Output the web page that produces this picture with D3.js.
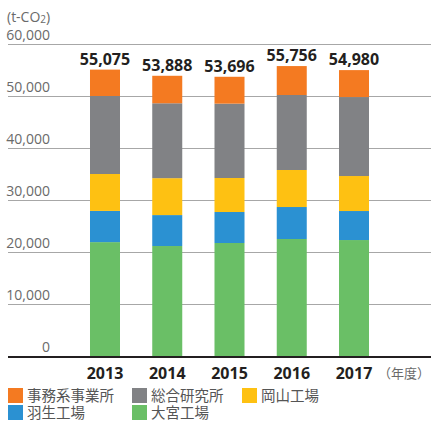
<!DOCTYPE html>
<html lang="ja">
  <head>
    <meta charset="utf-8">
    <script src="https://d3js.org/d3.v7.min.js"></script>
    <title>CO2排出量</title>
    <style>
      body { margin: 0; background: #fff; }
      svg { display: block; }
      text { font-family: "Open Sans", "Noto Sans CJK JP", sans-serif; }
      .tick-label { fill: #6a6a6a; font-size: 14px; }
      .total { fill: #231f20; font-size: 16px; font-weight: bold; }
      .year { fill: #231f20; font-size: 16px; font-weight: bold; }
      .legend text { fill: #555; font-size: 14.5px; font-family: "Liberation Sans", "Noto Sans CJK JP", sans-serif; }
    </style>
  </head>
  <body>
    <script>

    var years = ["2013", "2014", "2015", "2016", "2017"];
    var totals = [55075, 53888, 53696, 55756, 54980];
    var yTicks = [0, 10000, 20000, 30000, 40000, 50000, 60000];

    // stacked bottom -> top
    var omiya   = [21900, 21150, 21730, 22500, 22300];   // 大宮工場
    var hanyu   = [6000, 5950, 5960, 6150, 5580];        // 羽生工場
    var okayama = [7100, 7100, 6540, 7120, 6730];        // 岡山工場
    var soken   = [15000, 14400, 14300, 14420, 15190];   // 総合研究所
    var jimu    = [5075, 5288, 5166, 5566, 5180];        // 事務系事業所

    var keys = ["omiya", "hanyu", "okayama", "soken", "jimu"];
    var names = {omiya: "大宮工場", hanyu: "羽生工場", okayama: "岡山工場", soken: "総合研究所", jimu: "事務系事業所"};
    var colors = {omiya: "#6abf66", hanyu: "#2b91d2", okayama: "#fec112", soken: "#818285", jimu: "#f47a21"};

    var rows = years.map(function(y, i) {
      return {year: y, total: totals[i], omiya: omiya[i], hanyu: hanyu[i],
              okayama: okayama[i], soken: soken[i], jimu: jimu[i]};
    });

    var width = 431, height = 421;

    var svg = d3.select("body").append("svg")
      .attr("width", width)
      .attr("height", height);

    var x = d3.scaleBand()
      .domain(years)
      .range([57.75, 401.25])
      .padding(0.518);

    var y = d3.scaleLinear()
      .domain([0, 60000])
      .range([356, 44]);

    // grid + tick labels
    var grid = svg.append("g");
    grid.selectAll("line")
      .data(yTicks.filter(function(d) { return d > 0; }))
      .enter().append("line")
        .attr("x1", 8).attr("x2", width)
        .attr("y1", function(d) { return y(d) + 0.5; })
        .attr("y2", function(d) { return y(d) + 0.5; })
        .attr("stroke", "#a7a7a7")
        .attr("stroke-width", 1);

    grid.selectAll("text")
      .data(yTicks)
      .enter().append("text")
        .attr("class", "tick-label")
        .attr("x", 50)
        .attr("y", function(d) { return y(d) - 4; })
        .attr("text-anchor", "end")
        .text(function(d) { return d3.format(",")(d); });

    // unit
    var unit = svg.append("text")
      .attr("class", "tick-label")
      .attr("x", 7)
      .attr("y", 22);
    unit.append("tspan").text("(t-CO");
    unit.append("tspan").attr("font-size", "10px").attr("dy", 1).text("2");
    unit.append("tspan").attr("dy", -1).text(")");

    // bars
    var stack = d3.stack().keys(keys)(rows);

    svg.append("g").selectAll("g")
      .data(stack)
      .enter().append("g")
        .attr("fill", function(d) { return colors[d.key]; })
      .selectAll("rect")
      .data(function(d) { return d; })
      .enter().append("rect")
        .attr("x", function(d) { return x(d.data.year); })
        .attr("width", x.bandwidth())
        .attr("y", function(d) { return y(d[1]); })
        .attr("height", function(d) { return y(d[0]) - y(d[1]); });

    // baseline
    svg.append("line")
      .attr("x1", 8).attr("x2", width)
      .attr("y1", y(0) + 1).attr("y2", y(0) + 1)
      .attr("stroke", "#231f20")
      .attr("stroke-width", 2);

    // totals
    svg.selectAll(".total")
      .data(rows)
      .enter().append("text")
        .attr("class", "total")
        .attr("x", function(d) { return x(d.year) + x.bandwidth() / 2; })
        .attr("y", function(d) { return y(d.total) - 5; })
        .attr("text-anchor", "middle")
        .text(function(d) { return d3.format(",")(d.total); });

    // years
    svg.selectAll(".year")
      .data(years)
      .enter().append("text")
        .attr("class", "year")
        .attr("x", function(d) { return x(d) + x.bandwidth() / 2; })
        .attr("y", 379)
        .attr("text-anchor", "middle")
        .text(function(d) { return d; });

    svg.append("text")
      .attr("class", "tick-label")
      .attr("x", 430)
      .attr("y", 378)
      .attr("text-anchor", "end")
      .style("font-family", "'Noto Sans CJK JP', sans-serif")
      .style("font-size", "13px")
      .text("（年度）");

    // legend
    var legendOrder = ["jimu", "soken", "okayama", "hanyu", "omiya"];
    var legendPos = [[8, 388], [132, 388], [242, 388], [8, 405], [132, 405]];

    var legend = svg.append("g").attr("class", "legend")
      .selectAll("g")
      .data(legendOrder)
      .enter().append("g")
        .attr("transform", function(d, i) { return "translate(" + legendPos[i] + ")"; });

    legend.append("rect")
      .attr("width", 15).attr("height", 15)
      .attr("fill", function(d) { return colors[d]; });

    legend.append("text")
      .attr("x", 19)
      .attr("y", 12.5)
      .text(function(d) { return names[d]; });

    </script>
  </body>
</html>
